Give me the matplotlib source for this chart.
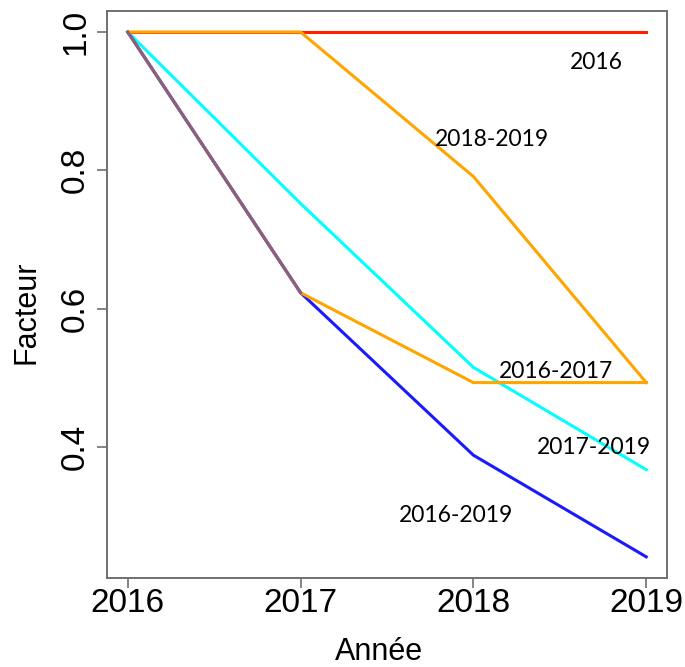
import numpy as np
import matplotlib
matplotlib.use('Agg')
import matplotlib.pyplot as plt

# data
years = [2016, 2017, 2018, 2019]
serie_2016 = [1.0, 1.0, 1.0, 1.0]
serie_2018_2019 = [1.0, 1.0, 0.791, 0.493]
serie_2016_2017 = [1.0, 0.623, 0.493, 0.493]
serie_2017_2019 = [1.0, 0.752, 0.515, 0.367]
serie_2016_2019 = [1.0, 0.623, 0.388, 0.241]
labels = ['2016', '2018-2019', '2016-2017', '2017-2019', '2016-2019']
y_ticks = [0.4, 0.6, 0.8, 1.0]

axis_font = 'Liberation Sans'

fig = plt.figure(figsize=(6.85, 6.67), dpi=100)
ax = fig.add_axes([107 / 685, 1 - 578 / 667, 560 / 685, 567 / 667])

lw = 2.2
ax.plot(years, serie_2016, color='#ff2000', lw=lw)
ax.plot(years, serie_2017_2019, color='#00ffff', lw=lw)
ax.plot(years, serie_2016_2019, color='#1a1aff', lw=lw)
ax.plot(years, serie_2016_2017, color='#ffa500', lw=lw)
ax.plot(years, serie_2018_2019, color='#ffa500', lw=lw)
# overlapping segment looks mauve in the original
ax.plot(years[:2], serie_2016_2019[:2], color='#1a1aff', lw=lw, alpha=0.5)

ax.set_xlim(2016 - 0.12, 2019 + 0.12)
ax.set_ylim(0.2104, 1.0304)
ax.set_xticks(years)
ax.set_yticks(y_ticks)
ax.set_yticklabels(['%.1f' % v for v in y_ticks], rotation=90, va='center')

for s in ax.spines.values():
    s.set_color('#707070')
    s.set_linewidth(1.4)
ax.tick_params(length=7.5, width=1.2, color='#707070', labelsize=24)
ax.tick_params(axis='x', pad=0)
ax.tick_params(axis='y', pad=3.9)
for t in ax.get_xticklabels() + ax.get_yticklabels():
    t.set_fontfamily(axis_font)

ax.set_xlabel('Année', fontsize=22, family=axis_font, va='baseline')
ax.xaxis.set_label_coords(0.4857, -0.1446)
ax.set_ylabel('Facteur', fontsize=22, family=axis_font, va='center')
ax.yaxis.set_label_coords(-0.1446, 0.468)

# labels added on the chart
lab_x = [2018.71, 2018.11, 2018.48, 2018.70, 2017.90]
lab_y = [0.9466, 0.8355, 0.4993, 0.3896, 0.2915]
for txt, x, y in zip(labels, lab_x, lab_y):
    ax.text(x, y, txt, ha='center', va='baseline', fontsize=16.5,
            family=['Lato', 'DejaVu Sans'], color='black')

fig.savefig('out.png', dpi=100)
